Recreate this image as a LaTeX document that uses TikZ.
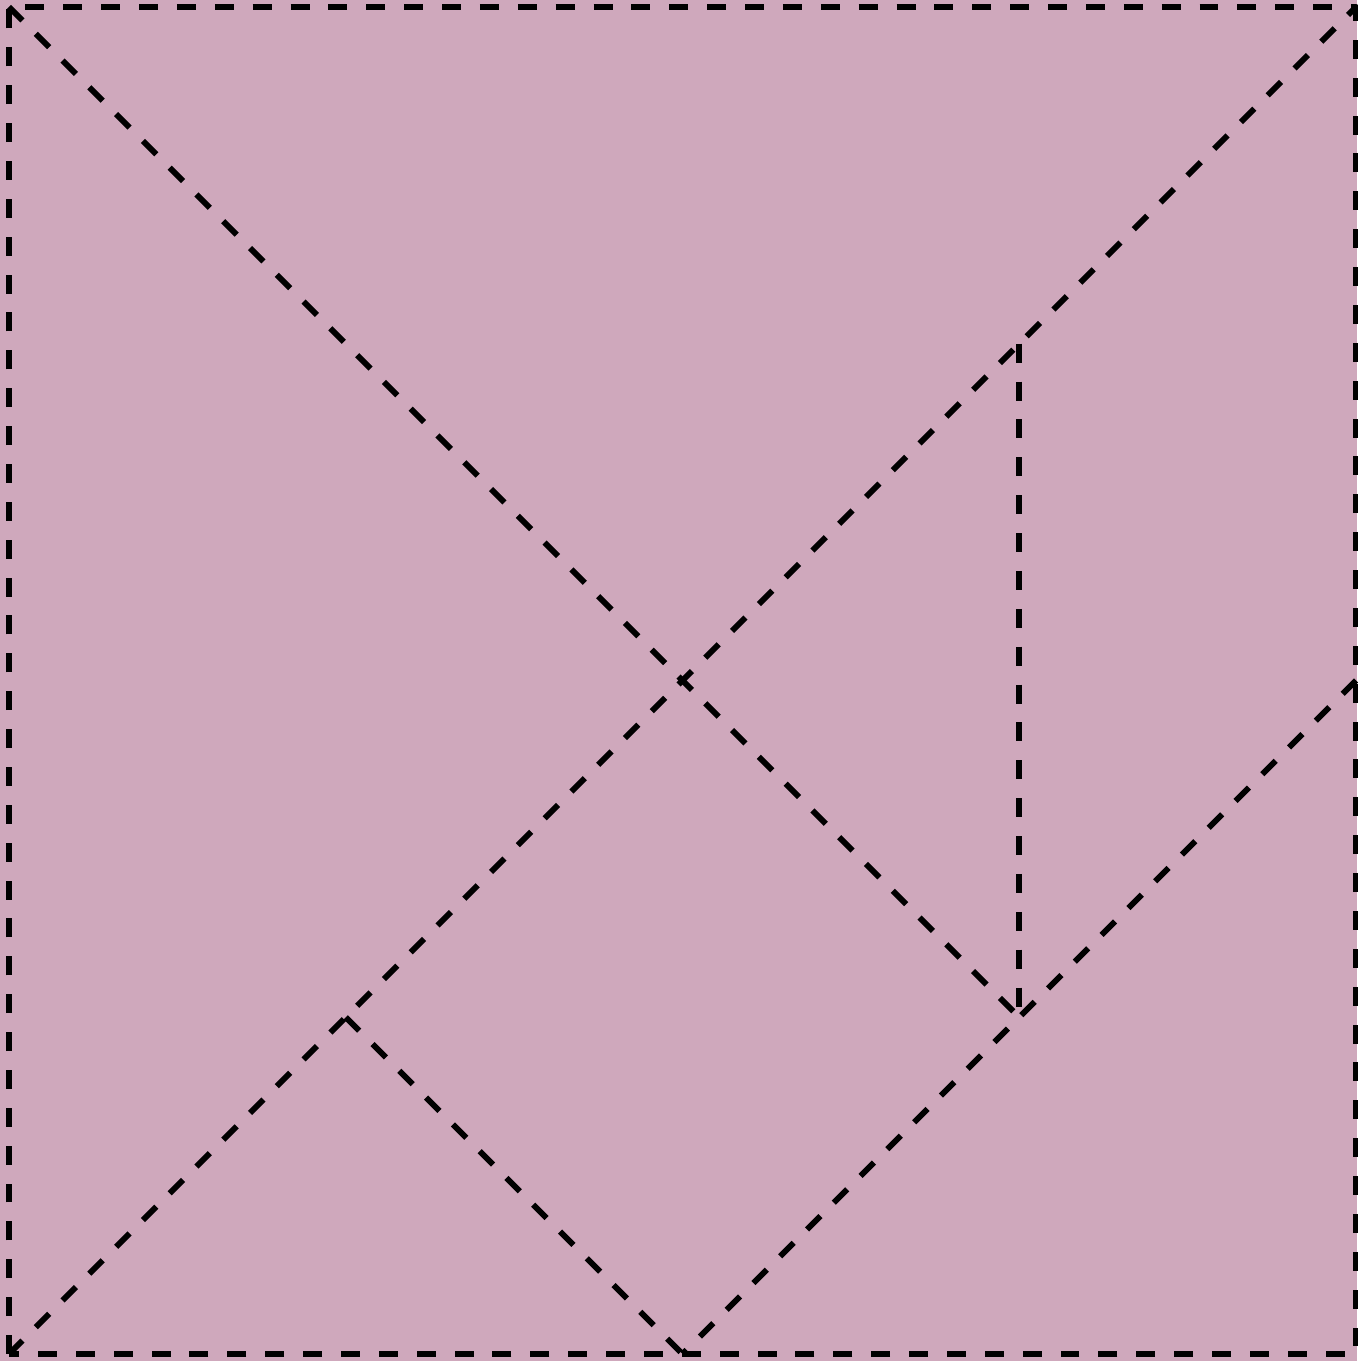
\documentclass[tikz,border=0pt]{standalone}
\usepackage{tikz}
\usetikzlibrary{positioning, calc}
\definecolor{tanpink}{RGB}{207,168,188}

\begin{document}
\begin{tikzpicture}[x=3cm, y=3cm, cut/.style={draw=black, line width=1.5pt, dash pattern=on 4.8pt off 4.8pt, line join=round}]
    \fill[tanpink] (-0.0268,-0.0208) rectangle (4.003,4.0208);
    \useasboundingbox (-0.0268,-0.0208) rectangle (4.003,4.0208);
    % corners and cut points
    \coordinate (bl) at (0,0);
    \coordinate (br) at (4,0);
    \coordinate (tr) at (4,4);
    \coordinate (tl) at (0,4);
    \coordinate (bm) at (2,0);
    \coordinate (rm) at (4,2);
    \coordinate (q1) at (1,1);
    \coordinate (q3) at (3,1);
    \coordinate (q33) at (3,3);
    \draw[cut] (bl) rectangle (tr);
    \draw[cut] (tl) -- (q3);
    \draw[cut] (bl) -- (tr);
    \draw[cut] (q33) -- (q3);
    \draw[cut] (rm) -- (bm);
    \draw[cut] (q1) -- (bm);
\end{tikzpicture}
\end{document}
